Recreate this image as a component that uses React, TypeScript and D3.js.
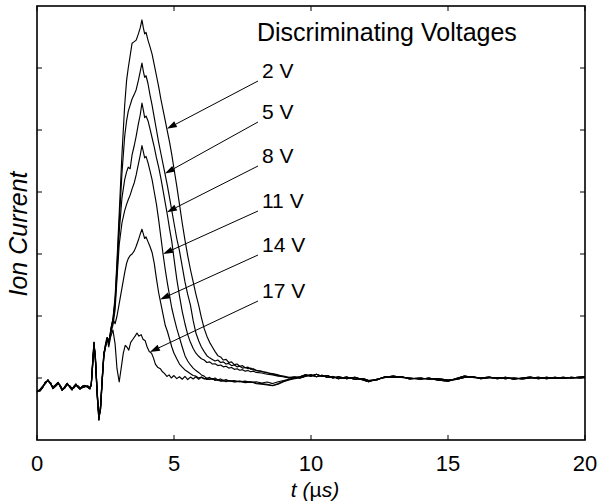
import React from 'react';
import * as d3 from 'd3';

type P = [number, number];

const X_TICKS = [0, 5, 10, 15, 20];
const Y_TICKS = [0, 0.2, 0.4, 0.6, 0.8, 1.0];
const X_DOMAIN: P = [0, 20];
const Y_DOMAIN: P = [-0.2, 1.2];

const EARLY_A: P[] = [
  [0, -0.045], [0.1, -0.038], [0.2, -0.028], [0.3, -0.018], [0.4, -0.006], [0.5, -0.02], [0.58, -0.03],
  [0.68, -0.022], [0.77, -0.014], [0.85, -0.028], [0.92, -0.04], [1.0, -0.03], [1.1, -0.017], [1.2, -0.03],
  [1.28, -0.038], [1.35, -0.027], [1.42, -0.02], [1.5, -0.03], [1.57, -0.036], [1.65, -0.027], [1.75, -0.024],
  [1.85, -0.03], [1.93, -0.035], [1.98, -0.02], [2.03, 0.05], [2.08, 0.115], [2.13, 0.06], [2.2, -0.06],
  [2.26, -0.135], [2.32, -0.09], [2.38, 0.0], [2.44, 0.08],
];
const EARLY_B: P[] = [
  [0, -0.04], [0.1, -0.042], [0.2, -0.032], [0.3, -0.014], [0.4, -0.01], [0.5, -0.016], [0.58, -0.034],
  [0.68, -0.026], [0.77, -0.018], [0.85, -0.024], [0.92, -0.036], [1.0, -0.034], [1.1, -0.021], [1.2, -0.026],
  [1.28, -0.034], [1.35, -0.031], [1.42, -0.024], [1.5, -0.026], [1.57, -0.032], [1.65, -0.031], [1.75, -0.028],
  [1.85, -0.026], [1.93, -0.031], [1.98, -0.024], [2.03, 0.04], [2.08, 0.105], [2.13, 0.07], [2.2, -0.05],
  [2.26, -0.125], [2.32, -0.1], [2.38, -0.01], [2.44, 0.07],
];
const LATE_A: P[] = [
  [9.6, 0.004], [9.8, 0.01], [10.0, 0.006], [10.2, 0.012], [10.4, 0.005], [10.6, 0.008], [10.8, 0.0],
  [11.0, 0.004], [11.3, -0.002], [11.6, 0.002], [11.9, -0.006], [12.1, -0.012], [12.4, -0.004], [12.7, 0.002],
  [13.0, 0.006], [13.3, 0.002], [13.6, 0.0], [14.0, -0.004], [14.3, 0.0], [14.6, -0.006], [15.0, -0.01],
  [15.3, -0.002], [15.6, 0.006], [15.9, 0.002], [16.2, 0.0], [16.5, 0.003], [16.8, -0.002], [17.1, 0.002],
  [17.4, -0.004], [17.7, 0.0], [18.0, 0.003], [18.3, -0.002], [18.6, 0.002], [18.9, -0.001], [19.2, 0.002],
  [19.5, 0.0], [19.8, 0.003], [20.0, 0.004],
];
const LATE_B: P[] = [
  [9.6, 0.0], [9.8, 0.006], [10.0, 0.01], [10.2, 0.004], [10.4, 0.009], [10.6, 0.002], [10.8, 0.005],
  [11.0, -0.002], [11.3, 0.003], [11.6, -0.004], [11.9, -0.002], [12.1, -0.008], [12.4, -0.006], [12.7, 0.004],
  [13.0, 0.002], [13.3, 0.005], [13.6, -0.003], [14.0, 0.0], [14.3, -0.004], [14.6, -0.002], [15.0, -0.007],
  [15.3, -0.005], [15.6, 0.002], [15.9, 0.005], [16.2, -0.002], [16.5, 0.001], [16.8, 0.001], [17.1, -0.002],
  [17.4, 0.0], [17.7, -0.003], [18.0, 0.0], [18.3, 0.002], [18.6, -0.002], [18.9, 0.002], [19.2, -0.001],
  [19.5, 0.002], [19.8, 0.0], [20.0, 0.003],
];

const MID_2V: P[] = [
  [2.5, 0.1], [2.57, 0.13], [2.63, 0.115], [2.7, 0.16], [2.77, 0.19], [2.85, 0.26], [2.92, 0.38], [3.0, 0.53],
  [3.1, 0.72], [3.2, 0.88], [3.27, 0.96], [3.33, 1.0], [3.4, 1.04], [3.47, 1.08], [3.55, 1.085], [3.62, 1.09],
  [3.7, 1.11], [3.77, 1.13], [3.83, 1.155], [3.88, 1.13], [3.93, 1.11], [3.98, 1.115], [4.05, 1.09], [4.12, 1.07],
  [4.2, 1.045], [4.28, 1.01], [4.36, 0.975], [4.44, 0.94], [4.52, 0.9], [4.6, 0.865], [4.68, 0.83], [4.76, 0.795],
  [4.84, 0.76], [4.92, 0.72], [5.0, 0.675], [5.1, 0.62], [5.2, 0.56], [5.3, 0.5], [5.4, 0.445], [5.5, 0.395],
  [5.6, 0.35], [5.7, 0.31], [5.8, 0.27], [5.9, 0.235], [6.0, 0.195], [6.1, 0.16], [6.2, 0.135], [6.3, 0.115],
  [6.4, 0.1], [6.5, 0.085], [6.6, 0.072], [6.7, 0.068], [6.8, 0.058], [6.9, 0.06], [7.0, 0.05], [7.1, 0.052],
  [7.2, 0.043], [7.3, 0.045], [7.4, 0.038], [7.5, 0.04], [7.6, 0.033], [7.7, 0.035], [7.8, 0.028], [7.9, 0.03],
  [8.0, 0.024], [8.2, 0.022], [8.4, 0.016], [8.6, 0.014], [8.8, 0.01], [9.0, 0.004], [9.2, 0.0], [9.4, 0.002],
];
const MID_5V: P[] = [
  [2.5, 0.105], [2.57, 0.125], [2.63, 0.11], [2.7, 0.155], [2.77, 0.185], [2.85, 0.25], [2.92, 0.36], [3.0, 0.5],
  [3.1, 0.66], [3.2, 0.78], [3.27, 0.83], [3.33, 0.86], [3.4, 0.88], [3.47, 0.9], [3.55, 0.915], [3.62, 0.93],
  [3.7, 0.96], [3.77, 0.99], [3.83, 1.016], [3.88, 0.99], [3.93, 0.97], [3.98, 0.975], [4.05, 0.95], [4.12, 0.915],
  [4.2, 0.88], [4.28, 0.84], [4.36, 0.8], [4.44, 0.76], [4.52, 0.725], [4.6, 0.69], [4.68, 0.655], [4.76, 0.62],
  [4.84, 0.58], [4.92, 0.54], [5.0, 0.5], [5.1, 0.45], [5.2, 0.41], [5.3, 0.36], [5.4, 0.31], [5.5, 0.27],
  [5.6, 0.235], [5.7, 0.185], [5.8, 0.145], [5.9, 0.12], [6.0, 0.1], [6.1, 0.085], [6.2, 0.072], [6.3, 0.065],
  [6.4, 0.06], [6.5, 0.055], [6.6, 0.058], [6.7, 0.05], [6.8, 0.052], [6.9, 0.045], [7.0, 0.047], [7.1, 0.04],
  [7.2, 0.042], [7.3, 0.036], [7.4, 0.038], [7.5, 0.032], [7.6, 0.034], [7.7, 0.03], [7.8, 0.032], [7.9, 0.026],
  [8.0, 0.025], [8.2, 0.02], [8.4, 0.018], [8.6, 0.012], [8.8, 0.008], [9.0, 0.006], [9.2, 0.002], [9.4, 0.004],
];
const MID_8V: P[] = [
  [2.5, 0.1], [2.57, 0.13], [2.63, 0.12], [2.7, 0.15], [2.77, 0.18], [2.85, 0.24], [2.92, 0.34], [3.0, 0.47],
  [3.1, 0.58], [3.2, 0.64], [3.27, 0.665], [3.33, 0.68], [3.4, 0.675], [3.47, 0.72], [3.55, 0.75], [3.62, 0.78],
  [3.7, 0.82], [3.77, 0.85], [3.83, 0.887], [3.88, 0.865], [3.93, 0.84], [3.98, 0.845], [4.05, 0.83], [4.12, 0.805],
  [4.2, 0.775], [4.28, 0.745], [4.36, 0.71], [4.44, 0.68], [4.52, 0.645], [4.6, 0.605], [4.68, 0.565], [4.76, 0.525],
  [4.84, 0.48], [4.92, 0.44], [5.0, 0.385], [5.1, 0.32], [5.2, 0.265], [5.3, 0.215], [5.4, 0.175], [5.5, 0.14],
  [5.6, 0.115], [5.7, 0.095], [5.8, 0.08], [5.9, 0.07], [6.0, 0.062], [6.1, 0.058], [6.2, 0.05], [6.3, 0.052],
  [6.4, 0.045], [6.5, 0.046], [6.6, 0.04], [6.7, 0.042], [6.8, 0.036], [6.9, 0.038], [7.0, 0.032], [7.1, 0.034],
  [7.2, 0.028], [7.3, 0.03], [7.4, 0.025], [7.5, 0.027], [7.6, 0.022], [7.7, 0.024], [7.8, 0.02], [7.9, 0.022],
  [8.0, 0.018], [8.2, 0.016], [8.4, 0.012], [8.6, 0.01], [8.8, 0.006], [9.0, 0.004], [9.2, 0.0], [9.4, 0.003],
];
const MID_11V: P[] = [
  [2.5, 0.1], [2.57, 0.125], [2.63, 0.115], [2.7, 0.15], [2.77, 0.17], [2.85, 0.22], [2.92, 0.32], [3.0, 0.43],
  [3.1, 0.5], [3.2, 0.54], [3.27, 0.56], [3.33, 0.575], [3.4, 0.59], [3.47, 0.61], [3.55, 0.63], [3.62, 0.655],
  [3.7, 0.69], [3.77, 0.72], [3.83, 0.75], [3.88, 0.73], [3.93, 0.71], [3.98, 0.715], [4.05, 0.695], [4.12, 0.67],
  [4.2, 0.64], [4.28, 0.6], [4.36, 0.56], [4.44, 0.51], [4.52, 0.455], [4.6, 0.4], [4.68, 0.35], [4.76, 0.305],
  [4.84, 0.265], [4.92, 0.225], [5.0, 0.195], [5.1, 0.16], [5.2, 0.13], [5.3, 0.1], [5.4, 0.072], [5.5, 0.055],
  [5.6, 0.042], [5.7, 0.032], [5.8, 0.024], [5.9, 0.018], [6.0, 0.01], [6.1, 0.006], [6.2, -0.002], [6.3, 0.002],
  [6.4, -0.004], [6.5, 0.0], [6.6, -0.006], [6.7, -0.003], [6.8, -0.008], [6.9, -0.005], [7.0, -0.01], [7.2, -0.008],
  [7.4, -0.012], [7.6, -0.01], [7.8, -0.014], [8.0, -0.012], [8.2, -0.016], [8.4, -0.013], [8.6, -0.018], [8.8, -0.012],
  [9.0, -0.008], [9.2, -0.004], [9.4, 0.0],
];
const MID_14V: P[] = [
  [2.5, 0.105], [2.57, 0.13], [2.63, 0.115], [2.7, 0.16], [2.77, 0.19], [2.85, 0.175], [2.92, 0.2], [3.0, 0.24],
  [3.1, 0.29], [3.2, 0.34], [3.27, 0.37], [3.33, 0.385], [3.4, 0.395], [3.47, 0.4], [3.55, 0.41], [3.62, 0.425],
  [3.7, 0.445], [3.77, 0.465], [3.83, 0.48], [3.88, 0.465], [3.93, 0.45], [3.98, 0.455], [4.05, 0.44], [4.12, 0.425],
  [4.2, 0.405], [4.28, 0.37], [4.36, 0.32], [4.44, 0.275], [4.52, 0.24], [4.6, 0.205], [4.68, 0.17], [4.76, 0.15],
  [4.84, 0.125], [4.92, 0.1], [5.0, 0.08], [5.1, 0.062], [5.2, 0.045], [5.3, 0.035], [5.4, 0.026], [5.5, 0.02],
  [5.6, 0.014], [5.7, 0.008], [5.8, 0.006], [5.9, 0.0], [6.0, 0.003], [6.1, -0.003], [6.2, 0.0], [6.3, -0.005],
  [6.4, -0.002], [6.5, -0.008], [6.6, -0.005], [6.7, -0.01], [6.8, -0.007], [6.9, -0.012], [7.0, -0.009], [7.2, -0.013],
  [7.4, -0.011], [7.6, -0.015], [7.8, -0.013], [8.0, -0.018], [8.2, -0.02], [8.4, -0.022], [8.6, -0.025], [8.8, -0.02],
  [9.0, -0.012], [9.2, -0.006], [9.4, -0.002],
];
const MID_17V: P[] = [
  [2.5, 0.11], [2.55, 0.13], [2.62, 0.1], [2.68, 0.13], [2.77, 0.155], [2.85, 0.11], [2.92, 0.03], [3.0, -0.013],
  [3.07, 0.03], [3.15, 0.08], [3.22, 0.105], [3.28, 0.1], [3.35, 0.09], [3.42, 0.115], [3.5, 0.125], [3.58, 0.135],
  [3.65, 0.145], [3.72, 0.135], [3.8, 0.14], [3.87, 0.125], [3.95, 0.12], [4.02, 0.1], [4.1, 0.085], [4.18, 0.08],
  [4.25, 0.065], [4.32, 0.045], [4.4, 0.035], [4.5, 0.03], [4.58, 0.02], [4.65, 0.015], [4.74, 0.005], [4.82, 0.01],
  [4.9, 0.0], [5.0, 0.008], [5.1, -0.002], [5.2, 0.004], [5.3, -0.004], [5.4, 0.005], [5.5, -0.005], [5.6, 0.003],
  [5.7, -0.003], [5.8, 0.004], [5.9, -0.004], [6.0, 0.002], [6.2, -0.005], [6.4, -0.002], [6.6, -0.008], [6.8, -0.01],
  [7.0, -0.008], [7.2, -0.012], [7.4, -0.01], [7.6, -0.013], [7.8, -0.012], [8.0, -0.016], [8.2, -0.018], [8.4, -0.02],
  [8.6, -0.024], [8.8, -0.018], [9.0, -0.01], [9.2, -0.005], [9.4, 0.0],
];

const LABELS = ['2 V', '5 V', '8 V', '11 V', '14 V', '17 V'];
const ARROW_T = [4.74, 4.67, 4.74, 4.6, 4.49, 4.12];
const TITLE = 'Discriminating Voltages';

const SERIES: P[][] = [
  [...EARLY_A, ...MID_2V, ...LATE_A],
  [...EARLY_B, ...MID_5V, ...LATE_B],
  [...EARLY_A, ...MID_8V, ...LATE_B],
  [...EARLY_B, ...MID_11V, ...LATE_A],
  [...EARLY_A, ...MID_14V, ...LATE_B],
  [...EARLY_B, ...MID_17V, ...LATE_A],
];

const W = 600, H = 501;
const M = { left: 37, right: 15, top: 6, bottom: 61 };
const LABEL_X = 262;
const LABEL_BASE = [78, 119, 163, 208, 252, 298];
const FONT = '"Liberation Sans", Arial, Helvetica, sans-serif';

function valueAt(pts: P[], t: number): number {
  const i = d3.bisector((d: P) => d[0]).left(pts, t);
  if (i <= 0) return pts[0][1];
  if (i >= pts.length) return pts[pts.length - 1][1];
  const [t0, v0] = pts[i - 1];
  const [t1, v1] = pts[i];
  return v0 + ((t - t0) / (t1 - t0)) * (v1 - v0);
}

export default function App() {
  const x = d3.scaleLinear().domain(X_DOMAIN).range([M.left, W - M.right]);
  const y = d3.scaleLinear().domain(Y_DOMAIN).range([H - M.bottom, M.top]);
  const line = d3.line<P>().x((d) => x(d[0])).y((d) => y(d[1]));
  const x0 = M.left, x1 = W - M.right, y0 = M.top, y1 = H - M.bottom;
  const tk = 5;

  return (
    <svg width={W} height={H} style={{ position: 'fixed', left: 0, top: 0, background: '#fff' }} fontFamily={FONT}>
      <rect x={0} y={0} width={W} height={H} fill="#fff" />
      <g fill="none" stroke="#000" strokeWidth={1.15} strokeLinejoin="round">
        {SERIES.map((s, i) => (
          <path key={i} d={line(s) || ''} />
        ))}
      </g>
      <rect x={x0} y={y0} width={x1 - x0} height={y1 - y0} fill="none" stroke="#000" strokeWidth={1.6} />
      {X_TICKS.map((t) => (
        <g key={'x' + t}>
          <line x1={x(t)} x2={x(t)} y1={y1} y2={y1 - tk} stroke="#000" strokeWidth={1} />
          <line x1={x(t)} x2={x(t)} y1={y0} y2={y0 + tk} stroke="#000" strokeWidth={1} />
          <text x={x(t)} y={471} fontSize={22} textAnchor="middle" fill="#000">{t}</text>
        </g>
      ))}
      {Y_TICKS.map((v) => (
        <g key={'y' + v}>
          <line x1={x0} x2={x0 + tk} y1={y(v)} y2={y(v)} stroke="#000" strokeWidth={1} />
          <line x1={x1} x2={x1 - tk} y1={y(v)} y2={y(v)} stroke="#000" strokeWidth={1} />
        </g>
      ))}
      <text x={315} y={497} fontSize={21} textAnchor="middle" fill="#000">
        <tspan fontStyle="italic">t</tspan>
        <tspan fontStyle="italic"> (</tspan>
        <tspan>µ</tspan>
        <tspan fontStyle="italic">s)</tspan>
      </text>
      <text transform={`translate(27,234) rotate(-90)`} fontSize={25} fontStyle="italic" textAnchor="middle" fill="#000">
        Ion Current
      </text>
      <text x={257} y={41} fontSize={25} fill="#000">{TITLE}</text>
      {LABELS.map((lab, i) => {
        const t = ARROW_T[i];
        const tx = x(t), ty = y(valueAt(SERIES[i], t));
        const sx = LABEL_X - 4, sy = LABEL_BASE[i] + 3;
        const ang = Math.atan2(ty - sy, tx - sx);
        const L = 10, hw = 3.2;
        const bx = tx - L * Math.cos(ang), by = ty - L * Math.sin(ang);
        const px = -Math.sin(ang) * hw, py = Math.cos(ang) * hw;
        return (
          <g key={lab}>
            <text x={LABEL_X} y={LABEL_BASE[i]} fontSize={21} fill="#000">{lab}</text>
            <line x1={sx} y1={sy} x2={bx} y2={by} stroke="#000" strokeWidth={1} />
            <polygon points={`${tx},${ty} ${bx + px},${by + py} ${bx - px},${by - py}`} fill="#000" />
          </g>
        );
      })}
    </svg>
  );
}
